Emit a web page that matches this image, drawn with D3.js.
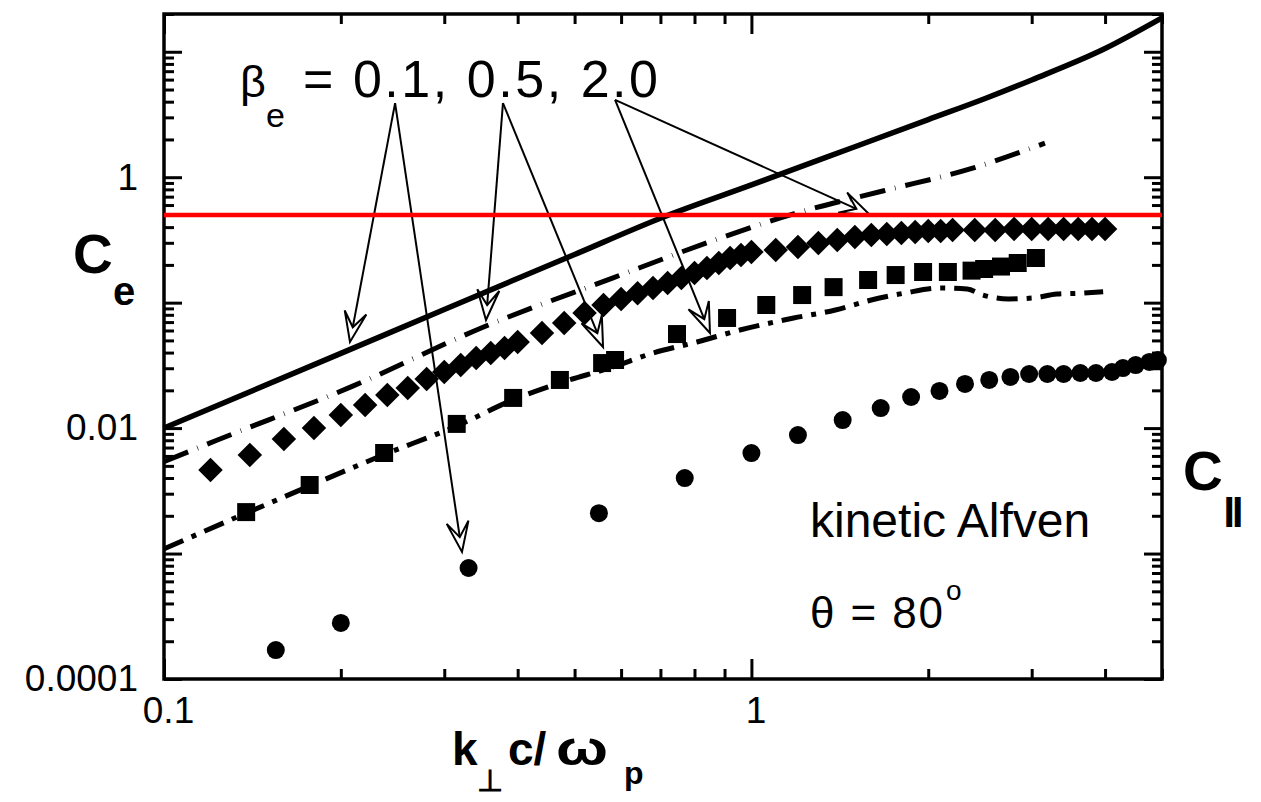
<!DOCTYPE html>
<html>
<head>
<meta charset="utf-8">
<script src="https://cdn.jsdelivr.net/npm/d3@7"></script>
<style>
body { margin: 0; background: #fff; }
svg { display: block; font-family: "Liberation Sans", Arial, Helvetica, sans-serif; }
</style>
</head>
<body>
<svg id="chart" width="1261" height="802"></svg>
<script>
// C_e curves (lines) for beta_e = 0.1, 0.5, 2.0
const SOLID_K = [0.1, 0.2, 0.3, 0.5, 0.7, 1.0, 1.5, 2.0, 2.5, 3.0, 4.0, 5.0];
const SOLID_C = [0.0100, 0.0394, 0.0882, 0.242, 0.471, 0.868, 1.75, 2.88, 4.24, 5.96, 10.6, 18.6];

const DASH_K = [0.1, 0.123, 0.21, 0.35, 0.58, 0.84, 1.18, 1.68, 2.38, 3.16];
const DASH_C = [0.0054, 0.0080, 0.0217, 0.064, 0.157, 0.30, 0.51, 0.78, 1.18, 1.87];

const DASHDOT_K = [0.1, 0.138, 0.177, 0.236, 0.315, 0.393, 0.472, 0.581, 0.68, 0.808, 0.956, 1.18, 1.39, 1.60, 1.82, 2.10, 2.33, 2.48, 2.74, 3.02, 3.31, 3.63, 3.97];
const DASHDOT_C = [0.00109, 0.0021, 0.00346, 0.0061, 0.0104, 0.0168, 0.0229, 0.0307, 0.0397, 0.0486, 0.0605, 0.0754, 0.0874, 0.105, 0.119, 0.131, 0.1285, 0.115, 0.107, 0.109, 0.117, 0.119, 0.122];

// C_parallel (markers)
const CIRCLE_K = [0.155, 0.2, 0.33, 0.55, 0.77, 1.0, 1.2, 1.43, 1.66, 1.87, 2.09, 2.31, 2.54, 2.76, 2.97, 3.19, 3.40, 3.63, 3.86, 4.11, 4.29, 4.51, 4.76, 4.92];
const CIRCLE_C = [0.00017, 0.00028, 0.000767, 0.0021, 0.0040, 0.00633, 0.0088, 0.0116, 0.01446, 0.0177, 0.0198, 0.0225, 0.0242, 0.0256, 0.027, 0.027, 0.027, 0.0275, 0.0275, 0.028, 0.0301, 0.0318, 0.0337, 0.0349];

const DIAMOND_K = [0.12, 0.14, 0.16, 0.18, 0.20, 0.22, 0.24, 0.26, 0.28, 0.30, 0.32, 0.34, 0.36, 0.38, 0.40,
    0.44, 0.48, 0.52, 0.56, 0.60, 0.64, 0.68, 0.72, 0.76, 0.80, 0.84, 0.88, 0.92, 0.96, 1.00,
    1.1, 1.2, 1.3, 1.4, 1.5, 1.6, 1.7, 1.8, 1.9, 2.0, 2.1, 2.2,
    2.4, 2.6, 2.8, 3.0, 3.2, 3.4, 3.6, 3.8, 4.0];
const DIAMOND_C = [0.00464, 0.00611, 0.00819, 0.0100, 0.0127, 0.0153, 0.0184, 0.0209, 0.0246, 0.0280, 0.0318, 0.0362, 0.0397, 0.0435, 0.0486,
    0.0573, 0.0689, 0.0827, 0.0958, 0.107, 0.119, 0.131, 0.1435, 0.157, 0.172, 0.189, 0.207, 0.227, 0.240, 0.2535,
    0.263, 0.278, 0.299, 0.316, 0.334, 0.346, 0.353, 0.359, 0.366, 0.373, 0.373, 0.380,
    0.380, 0.380, 0.387, 0.387, 0.387, 0.387, 0.387, 0.387, 0.387];

const SQUARE_K = [0.138, 0.177, 0.237, 0.315, 0.393, 0.472, 0.557, 0.586, 0.747, 0.909, 1.06, 1.22, 1.38, 1.58, 1.76, 1.96, 2.16, 2.37, 2.49, 2.66, 2.84, 3.05];
const SQUARE_C = [0.00214, 0.00352, 0.00633, 0.0108, 0.0174, 0.0242, 0.033, 0.0349, 0.0562, 0.0755, 0.0958, 0.115, 0.133, 0.1516, 0.166, 0.1756, 0.1756, 0.180, 0.1855, 0.194, 0.207, 0.227];

const RED_LEVEL = 0.5;

const Y_LABELS = [[1e-4, "0.0001"], [1e-2, "0.01"], [1, "1"]];
const X_LABELS = [[0.1, "0.1"], [1, "1"]];

// arrows: [from k, from C, to k, to C]
const ARROWS = [
    [0.2474, 3.9, 0.2073, 0.0486],
    [0.2474, 3.9, 0.3216, 0.00103],
    [0.3776, 3.9, 0.3533, 0.0727],
    [0.3776, 3.9, 0.559, 0.0443],
    [0.586, 4.13, 0.85, 0.0573],
    [0.586, 4.13, 1.592, 0.5],
];

var svg = d3.select("svg#chart");

var x = d3.scaleLog().domain([0.1, 5]).range([164, 1162]);
var y = d3.scaleLog().domain([1e-4, 20]).range([679, 14]);

const zip = (ks, cs) => ks.map((k, i) => [k, cs[i]]);

var line = d3.line()
    .x(d => x(d[0]))
    .y(d => y(d[1]))
    .curve(d3.curveMonotoneX);

// ticks
function isMajor(v) {
    return Math.abs(Math.log10(v) - Math.round(Math.log10(v))) < 1e-6;
}
var xMajor = x.ticks().filter(isMajor);
var xMinor = x.ticks().filter(v => !isMajor(v));
var yMajor = y.ticks().filter(isMajor);
var yMinor = y.ticks().filter(v => !isMajor(v));

function addAxis(axisFn, scale, values, size, transform, labels, pad) {
    var ax = axisFn(scale).tickValues(values).tickSize(-size).tickPadding(pad || 0)
        .tickFormat(v => {
            if (!labels) return "";
            var m = labels.find(l => Math.abs(l[0] - v) / v < 1e-6);
            return m ? m[1] : "";
        });
    var g = svg.append("g").attr("transform", transform).call(ax);
    g.select(".domain").remove();
    g.selectAll(".tick line").attr("stroke", "#000").attr("stroke-width", 3);
    g.selectAll(".tick text").attr("fill", "#000").style("font-size", "37px")
        .style("font-family", '"Liberation Sans", Arial, sans-serif');
    return g;
}

addAxis(d3.axisBottom, x, xMinor, 10, "translate(0,679)");
var xLab = addAxis(d3.axisBottom, x, xMajor, 20, "translate(0,679)", X_LABELS, 18);
xLab.selectAll(".tick text").attr("dx", 4);
addAxis(d3.axisTop, x, xMinor, 10, "translate(0,14)");
addAxis(d3.axisTop, x, xMajor, 20, "translate(0,14)");
addAxis(d3.axisLeft, y, yMinor, 10, "translate(164,0)");
addAxis(d3.axisLeft, y, yMajor, 18, "translate(164,0)", Y_LABELS, 26);
addAxis(d3.axisRight, y, yMinor, 10, "translate(1162,0)");
addAxis(d3.axisRight, y, yMajor, 18, "translate(1162,0)");

// frame
svg.append("rect")
    .attr("x", 164).attr("y", 14)
    .attr("width", 1162 - 164).attr("height", 679 - 14)
    .attr("fill", "none").attr("stroke", "#000").attr("stroke-width", 3.5);

// C_e lines
svg.append("path").datum(zip(SOLID_K, SOLID_C))
    .attr("d", line).attr("fill", "none").attr("stroke", "#000").attr("stroke-width", 5.5);

svg.append("path").datum(zip(DASH_K, DASH_C))
    .attr("d", line).attr("fill", "none").attr("stroke", "#000").attr("stroke-width", 5)
    .attr("stroke-dasharray", "26 10 0.6 10");

svg.append("path").datum(zip(DASHDOT_K, DASHDOT_C))
    .attr("d", line).attr("fill", "none").attr("stroke", "#000").attr("stroke-width", 5)
    .attr("stroke-dasharray", "21 9 5 9");

// arrows
ARROWS.forEach(function (a) {
    var x0 = x(a[0]), y0 = y(a[1]), x1 = x(a[2]), y1 = y(a[3]);
    var len = Math.hypot(x1 - x0, y1 - y0);
    var ux = (x1 - x0) / len, uy = (y1 - y0) / len;
    var nx = -uy, ny = ux;
    const L = 30, W = 11, N = 15;
    svg.append("line")
        .attr("x1", x0).attr("y1", y0).attr("x2", x1 - ux * N).attr("y2", y1 - uy * N)
        .attr("stroke", "#000").attr("stroke-width", 2);
    var head = [
        [x1 - ux * L + nx * W, y1 - uy * L + ny * W],
        [x1, y1],
        [x1 - ux * L - nx * W, y1 - uy * L - ny * W],
        [x1 - ux * N, y1 - uy * N]
    ];
    svg.append("path")
        .attr("d", "M" + head.map(p => p.join(",")).join("L") + "Z")
        .attr("fill", "none").attr("stroke", "#000").attr("stroke-width", 2)
        .attr("stroke-linejoin", "miter");
});

// red reference line
svg.append("path").datum([[0.1, RED_LEVEL], [5, RED_LEVEL]])
    .attr("d", d3.line().x(d => x(d[0])).y(d => y(d[1])))
    .attr("stroke", "#ff0000").attr("stroke-width", 4.5);

// markers
svg.append("g").selectAll("path").data(zip(DIAMOND_K, DIAMOND_C)).join("path")
    .attr("d", d3.symbol().type(d3.symbolSquare).size(300))
    .attr("transform", d => "translate(" + x(d[0]) + "," + y(d[1]) + ") rotate(45)")
    .attr("fill", "#000");

svg.append("g").selectAll("path").data(zip(SQUARE_K, SQUARE_C)).join("path")
    .attr("d", d3.symbol().type(d3.symbolSquare).size(324))
    .attr("transform", d => "translate(" + x(d[0]) + "," + y(d[1]) + ")")
    .attr("fill", "#000");

svg.append("g").selectAll("circle").data(zip(CIRCLE_K, CIRCLE_C)).join("circle")
    .attr("cx", d => x(d[0])).attr("cy", d => y(d[1])).attr("r", 9)
    .attr("fill", "#000");

// annotations
svg.append("text").attr("x", 240).attr("y", 97).style("font-size", "45px").text("β");
svg.append("text").attr("x", 266).attr("y", 127).style("font-size", "34px").text("e");
svg.append("text").attr("x", 303).attr("y", 97).style("font-size", "52px")
    .attr("textLength", 355).attr("lengthAdjust", "spacing").text("= 0.1, 0.5, 2.0");

svg.append("text").attr("x", 810).attr("y", 537).style("font-size", "48px").text("kinetic Alfven");
svg.append("text").attr("x", 810).attr("y", 628).style("font-size", "44px")
    .attr("textLength", 133).attr("lengthAdjust", "spacing").text("θ = 80");
svg.append("text").attr("x", 946).attr("y", 600).style("font-size", "28px").text("o");

// y titles
svg.append("text").attr("x", 73).attr("y", 273).style("font-size", "55px").style("font-weight", "bold").text("C");
svg.append("text").attr("x", 113).attr("y", 305).style("font-size", "40px").style("font-weight", "bold").text("e");

svg.append("text").attr("x", 1183).attr("y", 490).style("font-size", "55px").style("font-weight", "bold").text("C");
svg.append("text").attr("x", 1225).attr("y", 520).style("font-size", "30px").style("font-weight", "bold")
    .attr("stroke", "#000").attr("stroke-width", 2).text("||");

// x title
svg.append("text").attr("x", 452).attr("y", 765).style("font-size", "46px").style("font-weight", "bold").text("k");
svg.append("text").attr("x", 477).attr("y", 791).style("font-size", "30px").style("font-weight", "bold").text("⊥");
svg.append("text").attr("x", 508).attr("y", 765).style("font-size", "46px").style("font-weight", "bold").text("c/");
svg.append("text").attr("x", 556).attr("y", 765).style("font-size", "48px").style("font-weight", "bold")
    .attr("textLength", 52).attr("lengthAdjust", "spacingAndGlyphs").text("ω");
svg.append("text").attr("x", 624).attr("y", 784).style("font-size", "32px").style("font-weight", "bold").text("p");
</script>
</body>
</html>
